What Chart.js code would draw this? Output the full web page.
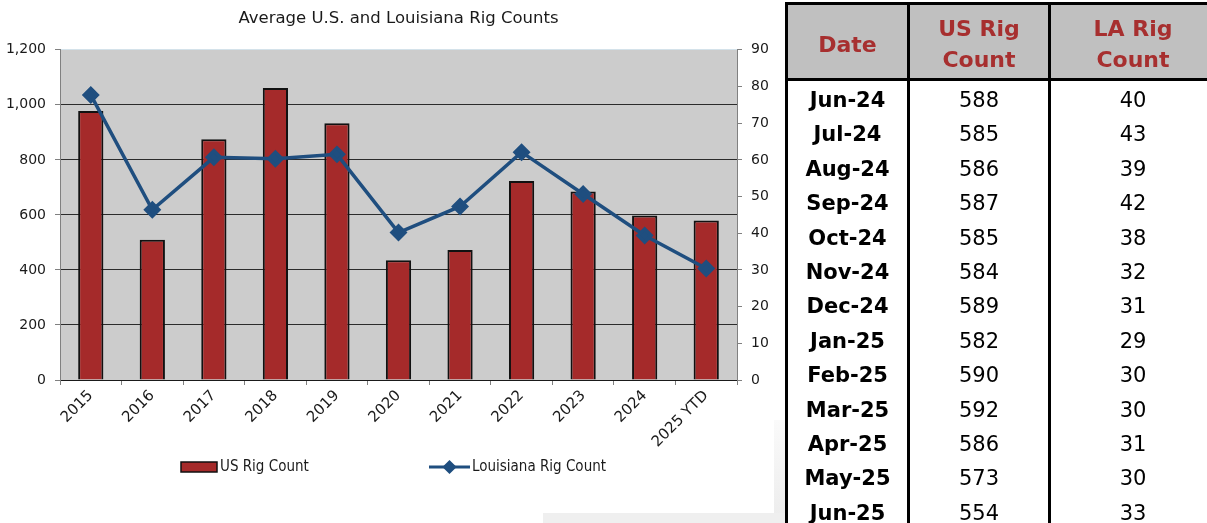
<!DOCTYPE html>
<html>
<head>
    <title>Average U.S. and Louisiana Rig Counts</title>
    <script src="https://cdn.jsdelivr.net/npm/chart.js"></script>
    <style>
        body {
            margin: 0;
            width: 1207px;
            height: 523px;
            overflow: hidden;
            background: #fff;
            position: relative;
        }
        /* faint slide background behind the chart picture */
        .bg-strip {
            position: absolute;
            left: 774px;
            top: 420px;
            width: 12px;
            height: 103px;
            background: linear-gradient(#fafafa, #ececec);
        }
        .bg-foot {
            position: absolute;
            left: 543px;
            top: 513px;
            width: 243px;
            height: 10px;
            background: #efefef;
        }
        .chart-container {
            position: absolute;
            left: 0;
            top: 0;
            width: 797px;
            height: 513px;
        }
        #rigTable {
            position: absolute;
            left: 785px;
            top: 2px;
            border-collapse: collapse;
            table-layout: fixed;
            width: 430px;
            font-family: "DejaVu Sans", sans-serif;
        }
        #rigTable th {
            background: #c0c0c0;
            color: #a72f2f;
            font-size: 22px;
            font-weight: bold;
            line-height: 31px;
            padding: 8px 0 3px 0;
            border: 3px solid #000;
            text-align: center;
        }
        #rigTable td {
            border-left: 3px solid #000;
            border-right: 3px solid #000;
            font-size: 21px;
            line-height: 34.4px;
            padding: 0;
            text-align: center;
            color: #000;
        }
        #rigTable tbody tr:first-child td {
            padding-top: 2px;
        }
        #rigTable td.date {
            font-weight: bold;
        }
    </style>
</head>
<body>
    <div class="bg-strip"></div>
    <div class="bg-foot"></div>

    <div class="chart-container">
        <canvas id="rigChart" width="797" height="513"></canvas>
    </div>

    <table id="rigTable">
        <colgroup>
            <col style="width:122px">
            <col style="width:141px">
            <col style="width:167px">
        </colgroup>
        <thead>
            <tr><th>Date</th><th>US Rig<br>Count</th><th>LA Rig<br>Count</th></tr>
        </thead>
        <tbody></tbody>
    </table>

    <script>
        // yearly averages
        const years = ['2015', '2016', '2017', '2018', '2019', '2020', '2021', '2022', '2023', '2024', '2025 YTD'];
        const usRigCount = [978, 510, 875, 1061, 933, 435, 472, 723, 685, 598, 580];
        const laRigCount = [77.7, 46.4, 60.7, 60.3, 61.5, 40.2, 47.3, 62.1, 50.7, 39.4, 30.4];

        // monthly table
        const months = ['Jun-24', 'Jul-24', 'Aug-24', 'Sep-24', 'Oct-24', 'Nov-24', 'Dec-24',
                        'Jan-25', 'Feb-25', 'Mar-25', 'Apr-25', 'May-25', 'Jun-25'];
        const usMonthly = [588, 585, 586, 587, 585, 584, 589, 582, 590, 592, 586, 573, 554];
        const laMonthly = [40, 43, 39, 42, 38, 32, 31, 29, 30, 30, 31, 30, 33];

        const usTicks = [0, 200, 400, 600, 800, 1000, 1200];
        const laTicks = [0, 10, 20, 30, 40, 50, 60, 70, 80, 90];

        // build table rows
        const tbody = document.querySelector('#rigTable tbody');
        months.forEach((m, i) => {
            const tr = document.createElement('tr');
            tr.innerHTML = '<td class="date">' + m + '</td><td>' + usMonthly[i] + '</td><td>' + laMonthly[i] + '</td>';
            tbody.appendChild(tr);
        });

        const FONT = "'DejaVu Sans', sans-serif";
        const barColor = '#a52a2a';
        const lineColor = '#1f4e7f';

        // Excel-style legend under the axis labels
        const bottomLegend = {
            id: 'bottomLegend',
            afterDraw(chart) {
                const ctx = chart.ctx;
                const bar = chart.data.datasets[0];
                const line = chart.data.datasets[1];
                const y = 467;
                ctx.save();
                ctx.font = "15px 'DejaVu Sans Condensed', 'DejaVu Sans', sans-serif";
                ctx.textBaseline = 'middle';

                ctx.fillStyle = bar.backgroundColor;
                ctx.fillRect(181, y - 5, 36, 10);
                ctx.lineWidth = 1.5;
                ctx.strokeStyle = bar.borderColor;
                ctx.strokeRect(181, y - 5, 36, 10);
                ctx.fillStyle = '#1a1a1a';
                ctx.fillText(bar.label, 220, y);

                ctx.strokeStyle = line.borderColor;
                ctx.lineWidth = 3;
                ctx.beginPath();
                ctx.moveTo(429, y);
                ctx.lineTo(470, y);
                ctx.stroke();
                Chart.helpers.drawPoint(ctx, {
                    pointStyle: 'rectRot', radius: 5, borderWidth: 1
                }, 449.5, y);
                ctx.fillStyle = line.borderColor;
                ctx.fill();
                ctx.fillStyle = '#1a1a1a';
                ctx.fillText(line.label, 472, y);
                ctx.restore();
            }
        };

        // grey plot background
        const plotBackground = {
            id: 'plotBackground',
            beforeDraw(chart) {
                const a = chart.chartArea;
                chart.ctx.save();
                chart.ctx.fillStyle = '#cccccc';
                chart.ctx.fillRect(a.left, a.top, a.right - a.left, a.bottom - a.top);
                chart.ctx.restore();
            }
        };

        const ctx = document.getElementById('rigChart').getContext('2d');
        new Chart(ctx, {
            data: {
                labels: years,
                datasets: [{
                    type: 'bar',
                    label: 'US Rig Count',
                    data: usRigCount,
                    backgroundColor: barColor,
                    borderColor: '#111111',
                    borderWidth: 2,
                    barPercentage: 0.41,
                    categoryPercentage: 1,
                    yAxisID: 'y',
                    order: 2
                }, {
                    type: 'line',
                    label: 'Louisiana Rig Count',
                    data: laRigCount,
                    borderColor: lineColor,
                    backgroundColor: lineColor,
                    borderWidth: 3.5,
                    pointStyle: 'rectRot',
                    pointRadius: 6.5,
                    pointBackgroundColor: lineColor,
                    pointBorderColor: lineColor,
                    tension: 0,
                    yAxisID: 'y1',
                    order: 1
                }]
            },
            options: {
                responsive: false,
                animation: false,
                locale: 'en-US',
                layout: { padding: 0 },
                plugins: {
                    legend: { display: false },
                    tooltip: { enabled: false },
                    title: {
                        display: true,
                        text: 'Average U.S. and Louisiana Rig Counts',
                        color: '#1a1a1a',
                        font: { family: FONT, size: 16.5, weight: 'normal' },
                        padding: { top: 9, bottom: 21 }
                    }
                },
                scales: {
                    x: {
                        offset: true,
                        grid: { offset: true, drawOnChartArea: false, tickLength: 5, color: '#7f7f7f' },
                        border: { color: '#1a1a1a', width: 1 },
                        ticks: {
                            minRotation: 45,
                            maxRotation: 45,
                            padding: 2,
                            color: '#1a1a1a',
                            font: { family: FONT, size: 15 }
                        },
                        afterFit: s => { s.height = 133; }
                    },
                    y: {
                        position: 'left',
                        min: 0,
                        max: 1200,
                        afterBuildTicks: s => { s.ticks = usTicks.map(v => ({ value: v })); },
                        grid: {
                            color: c => (c.tick && c.tick.value === 1200) ? '#d4e2ea' : '#2b2b2b',
                            tickColor: '#808080',
                            tickLength: 5
                        },
                        border: { color: '#808080' },
                        ticks: {
                            padding: 9,
                            color: '#1a1a1a',
                            font: { family: FONT, size: 14 }
                        },
                        afterFit: s => { s.width = 60; }
                    },
                    y1: {
                        position: 'right',
                        min: 0,
                        max: 90,
                        afterBuildTicks: s => { s.ticks = laTicks.map(v => ({ value: v })); },
                        grid: { drawOnChartArea: false, color: '#808080', tickLength: 5 },
                        border: { color: '#808080' },
                        ticks: {
                            padding: 9,
                            color: '#1a1a1a',
                            font: { family: FONT, size: 14 }
                        },
                        afterFit: s => { s.width = 60; }
                    }
                }
            },
            plugins: [plotBackground, bottomLegend]
        });
    </script>
</body>
</html>
